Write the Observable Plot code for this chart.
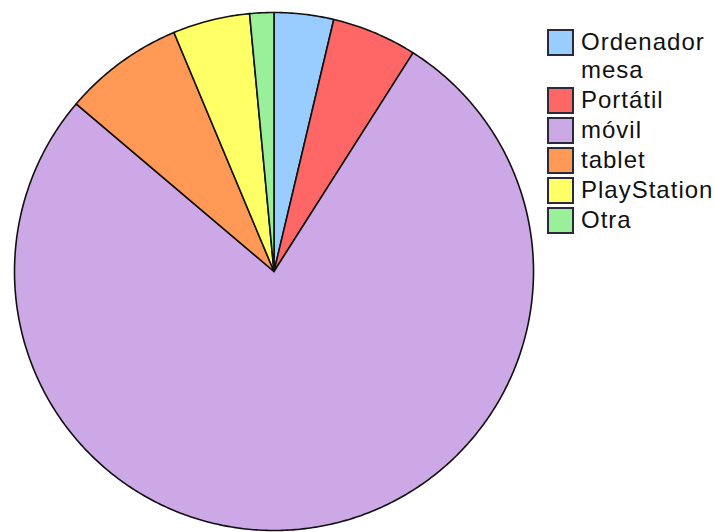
<!DOCTYPE html>
<html>
<head>
<meta charset="utf-8">
<script src="https://cdn.jsdelivr.net/npm/d3@7"></script>
<script src="https://cdn.jsdelivr.net/npm/@observablehq/plot@0.6"></script>
<style>
  html, body { margin: 0; padding: 0; background: #fff; }
  #wrap { position: relative; width: 715px; height: 532px; }
  #legend { position: absolute; left: 547px; top: 28px; font-family: "Liberation Sans", Arial, sans-serif; font-size: 24px; letter-spacing: 1px; color: #111; }
  .item { display: flex; align-items: flex-start; margin-bottom: 2px; }
  .sw { width: 23px; height: 23px; border: 2px solid #2a2a3a; flex: none; margin-top: 1px; }
  .lab { margin-left: 7px; line-height: 28px; width: 140px; }
</style>
</head>
<body>
<div id="wrap">
  <div id="chart"></div>
  <div id="legend"></div>
</div>
<script>
const categories = ["Ordenador mesa", "Portátil", "móvil", "tablet", "PlayStation", "Otra"];
const values = [3.7, 5.3, 77.2, 7.5, 4.8, 1.5];
const colors = ["#99CCFF", "#FF6666", "#CCA8E6", "#FF9955", "#FFFF66", "#99F099"];

const data = categories.map((c, i) => ({cat: c, value: values[i]}));
const arcs = d3.pie().sort(null).value(d => d.value)(data);

// outline of each slice: centre + arc samples, derived from the pie layout
const pts = [];
for (const a of arcs) {
  pts.push({cat: a.data.cat, x: 0, y: 0});
  const n = Math.max(4, Math.ceil((a.endAngle - a.startAngle) / 0.01));
  for (let k = 0; k <= n; k++) {
    const t = a.startAngle + (a.endAngle - a.startAngle) * k / n;
    pts.push({cat: a.data.cat, x: Math.sin(t), y: Math.cos(t)});
  }
}

const chart = Plot.plot({
  width: 715,
  height: 532,
  margin: 0,
  x: {domain: [-1, 1], range: [14, 533], axis: null},
  y: {domain: [-1, 1], range: [530, 12], axis: null},
  color: {domain: categories, range: colors},
  marks: [
    Plot.line(pts, {x: "x", y: "y", z: "cat", fill: "cat", stroke: "#111", strokeWidth: 1.6, curve: "linear-closed"})
  ]
});
document.getElementById("chart").appendChild(chart);

const legend = document.getElementById("legend");
categories.forEach((c, i) => {
  const it = document.createElement("div");
  it.className = "item";
  const sw = document.createElement("div");
  sw.className = "sw";
  sw.style.background = colors[i];
  const lab = document.createElement("div");
  lab.className = "lab";
  lab.textContent = c;
  it.appendChild(sw);
  it.appendChild(lab);
  legend.appendChild(it);
});
</script>
</body>
</html>
